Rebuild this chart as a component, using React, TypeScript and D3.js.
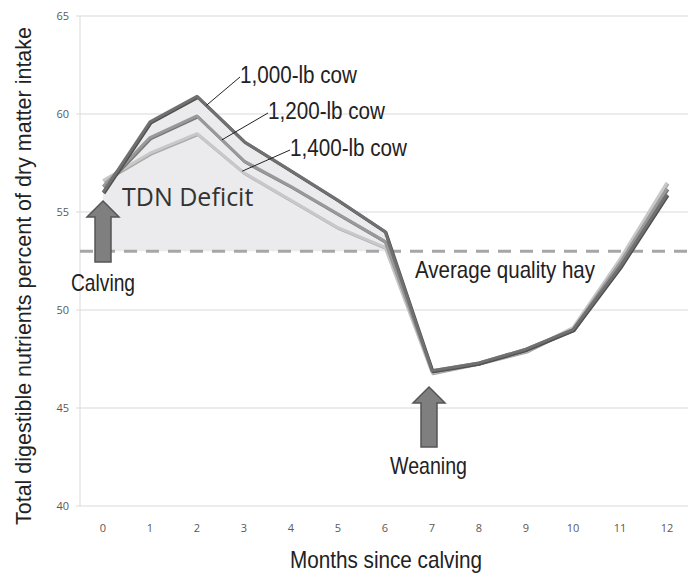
import { useRef, useEffect } from "react";
import * as d3 from "d3";

const months = [0, 1, 2, 3, 4, 5, 6, 7, 8, 9, 10, 11, 12];
const yTicks = [40, 45, 50, 55, 60, 65];
const cow1000 = [56.0, 59.6, 60.9, 58.6, 57.1, 55.6, 54.0, 46.9, 47.3, 48.0, 49.0, 52.2, 55.9];
const cow1200 = [56.3, 58.8, 59.9, 57.6, 56.3, 54.9, 53.5, 46.9, 47.3, 48.0, 49.0, 52.4, 56.2];
const cow1400 = [56.6, 58.0, 59.0, 57.0, 55.6, 54.2, 53.2, 46.8, 47.3, 47.9, 49.1, 52.6, 56.5];
const seriesNames = ["1,000-lb cow", "1,200-lb cow", "1,400-lb cow"];
const hay = 53;
const calvingMonth = 0;
const weaningMonth = 7;

const W = 688;
const H = 575;
const narrow = "'Liberation Sans', Arial, sans-serif";

export default function App() {
  const ref = useRef<SVGSVGElement | null>(null);

  useEffect(() => {
    const svg = d3.select(ref.current!);
    svg.selectAll("*").remove();

    const x = d3.scalePoint<number>().domain(months).range([103, 667]);
    const y = d3.scaleLinear().domain([40, 65]).range([506, 16]);

    // gridlines
    svg
      .append("g")
      .selectAll("line")
      .data(yTicks)
      .join("line")
      .attr("x1", 76)
      .attr("x2", W)
      .attr("y1", (d) => y(d))
      .attr("y2", (d) => y(d))
      .attr("stroke", "#d9d9d9")
      .attr("stroke-width", 1);

    svg
      .append("line")
      .attr("x1", 80)
      .attr("x2", 80)
      .attr("y1", y(65))
      .attr("y2", y(40))
      .attr("stroke", "#d9d9d9");

    // tick labels
    svg
      .append("g")
      .selectAll("text")
      .data(yTicks)
      .join("text")
      .attr("x", 69)
      .attr("y", (d) => y(d) + 4)
      .attr("text-anchor", "end")
      .attr("font-family", "'Open Sans', sans-serif")
      .attr("font-size", 11)
      .attr("fill", "#595959")
      .text((d) => d);

    svg
      .append("g")
      .selectAll("text")
      .data(months)
      .join("text")
      .attr("x", (d) => x(d)!)
      .attr("y", 532)
      .attr("text-anchor", "middle")
      .attr("font-family", "'Open Sans', sans-serif")
      .attr("font-size", 11)
      .attr("fill", "#595959")
      .text((d) => d);

    // TDN deficit area
    const deficit = months.filter((m) => m <= 6);
    const area = d3
      .area<number>()
      .x((m) => x(m)!)
      .y0(y(hay))
      .y1((m) => y(cow1000[m]));
    svg
      .append("path")
      .attr("d", area(deficit))
      .attr("fill", "#ebebed");

    // hay line
    svg
      .append("line")
      .attr("x1", 80)
      .attr("x2", W)
      .attr("y1", y(hay))
      .attr("y2", y(hay))
      .attr("stroke", "#a6a6a6")
      .attr("stroke-width", 3)
      .attr("stroke-dasharray", "13 9");

    // series lines
    const line = d3
      .line<number>()
      .x((v, i) => x(months[i])!)
      .y((v) => y(v));
    const series = [
      { vals: cow1400, color: "#c8c8c8", shade: "#a8a8a8" },
      { vals: cow1200, color: "#999999", shade: "#777777" },
      { vals: cow1000, color: "#707070", shade: "#4f4f4f" },
    ];
    series.forEach((s) => {
      svg
        .append("path")
        .attr("d", line(s.vals))
        .attr("fill", "none")
        .attr("stroke", s.shade)
        .attr("stroke-width", 3)
        .attr("stroke-linejoin", "round")
        .attr("transform", "translate(1,1)");
      svg
        .append("path")
        .attr("d", line(s.vals))
        .attr("fill", "none")
        .attr("stroke", s.color)
        .attr("stroke-width", 3)
        .attr("stroke-linejoin", "round");
    });

    const txt = (s: string, tx: number, ty: number, size: number, family: string, len?: number, anchor = "start") => {
      const t = svg
        .append("text")
        .attr("x", tx)
        .attr("y", ty)
        .attr("text-anchor", anchor)
        .attr("font-family", family)
        .attr("font-size", size)
        .attr("fill", "#222")
        .text(s);
      if (len) t.attr("textLength", len).attr("lengthAdjust", "spacingAndGlyphs");
      return t;
    };

    // series labels with leaders
    const at = (vals: number[], m: number) => {
      const i = Math.floor(m);
      const t = m - i;
      return vals[i] + (vals[i + 1] - vals[i]) * t;
    };
    const labels = [
      { vals: cow1000, m: 2.2, lx: 240, ly: 77 },
      { vals: cow1200, m: 2.53, lx: 268, ly: 113 },
      { vals: cow1400, m: 2.96, lx: 290, ly: 150 },
    ];
    labels.forEach((l, i) => {
      const px = x(2)! + (x(3)! - x(2)!) * (l.m - 2);
      svg
        .append("line")
        .attr("x1", px)
        .attr("y1", y(at(l.vals, l.m)))
        .attr("x2", l.lx)
        .attr("y2", l.ly)
        .attr("stroke", "#222")
        .attr("stroke-width", 1);
      txt(seriesNames[i], l.lx, l.ly + 6, 23, narrow, 117);
    });

    // arrows
    const arrow = (cx: number, tip: number, base: number) => {
      const hw = 16;
      const sw = 8;
      const hb = tip + 16;
      const pts: [number, number][] = [
        [cx, tip],
        [cx + hw, hb],
        [cx + sw, hb],
        [cx + sw, base],
        [cx - sw, base],
        [cx - sw, hb],
        [cx - hw, hb],
      ];
      svg
        .append("path")
        .attr("d", d3.line()(pts)! + "Z")
        .attr("fill", "#7f7f7f")
        .attr("stroke", "#555")
        .attr("stroke-width", 1.5);
    };
    arrow(x(calvingMonth)!, 201, 262);
    arrow(x(weaningMonth)! - 3, 387, 447);

    txt("TDN Deficit", 122, 206, 25, "'Open Sans', sans-serif").attr("fill", "#333");
    txt("Calving", 71, 291, 24, narrow, 64);
    txt("Average quality hay", 415, 278, 24, narrow, 180);
    txt("Weaning", 390, 474, 24, narrow, 77);
    txt("Months since calving", 290, 568, 24, narrow, 192);
    txt("Total digestible nutrients percent of dry matter intake", 0, 0, 22, narrow, 498).attr(
      "transform",
      "translate(31,525) rotate(-90)"
    );
  }, []);

  return <svg ref={ref} width={W} height={H} style={{ display: "block", position: "absolute", left: 0, top: 0 }}></svg>;
}
